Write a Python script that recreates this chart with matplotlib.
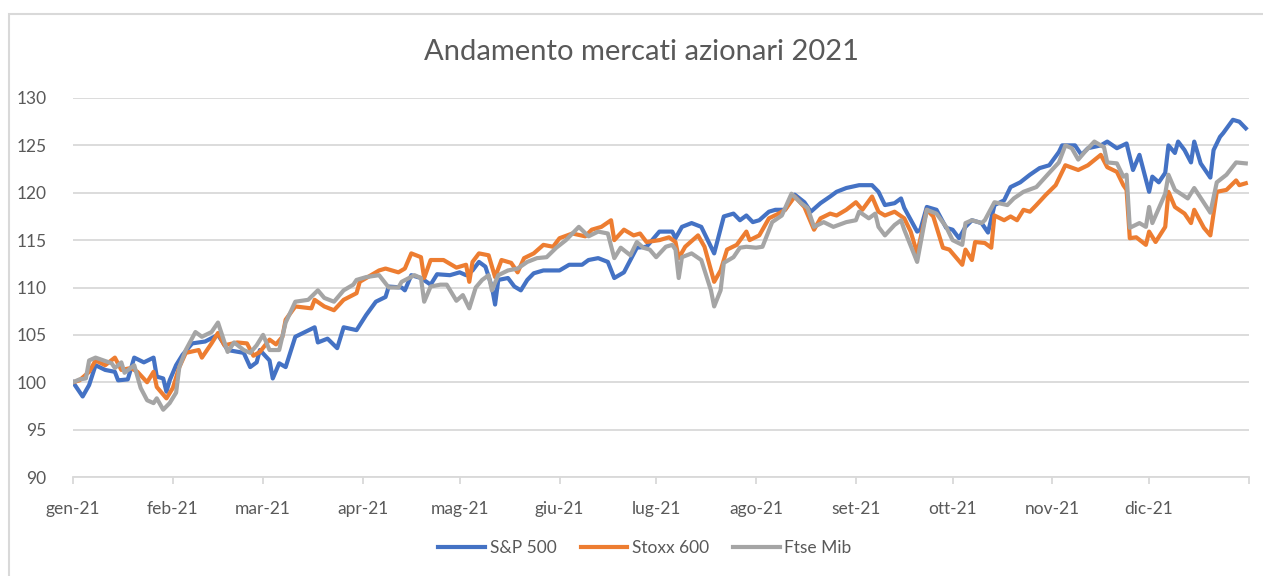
import numpy as np
import matplotlib
matplotlib.use('Agg')
import matplotlib.pyplot as plt
from matplotlib.patches import Rectangle

# giorni dall'1 gennaio 2021 e valori (base 100)
sp_giorni = [0, 3, 5, 7, 10, 13, 14, 17, 19, 22, 25, 26, 28, 29, 30, 32, 34, 37, 41, 45,
             48, 53, 55, 57, 58, 61, 62, 64, 66, 69, 72, 75, 76, 79, 82, 84, 88, 91, 94, 97,
             98, 102, 103, 105, 108, 111, 113, 117, 120, 122, 124, 126, 128, 130, 131, 132, 135, 137, 139, 141,
             143, 146, 151, 154, 158, 160, 163, 166, 168, 171, 173, 175, 178, 182, 186, 187, 189, 192, 195, 199,
             202, 205, 207, 209, 211, 213, 216, 218, 221, 224, 227, 229, 232, 235, 237, 240, 244, 248, 250, 252,
             255, 257, 258, 262, 263, 265, 268, 271, 273, 275, 277, 279, 282, 284, 286, 289, 291, 294, 297, 300,
             303, 306, 307, 311, 313, 315, 319, 321, 324, 327, 329, 331, 334, 335, 337, 339, 340, 342, 343, 345,
             347, 348, 350, 353, 354, 356, 357, 360, 362, 364]
sp_500 = [100.0, 98.5, 99.7, 101.8, 101.3, 101.1, 100.2, 100.3, 102.6, 102.1, 102.6, 100.6, 100.4, 99.0, 100.2, 101.8, 102.9, 104.1, 104.3, 105.0,
          103.4, 103.1, 101.6, 102.1, 103.4, 102.3, 100.4, 102.0, 101.6, 104.8, 105.3, 105.8, 104.2, 104.6, 103.6, 105.8, 105.5, 107.1, 108.5, 109.0,
          110.1, 110.0, 109.7, 111.3, 111.0, 110.3, 111.4, 111.3, 111.6, 111.3, 111.8, 112.7, 112.2, 110.1, 108.2, 110.8, 111.0, 110.1, 109.7, 110.8,
          111.5, 111.8, 111.8, 112.4, 112.4, 112.9, 113.1, 112.7, 111.0, 111.6, 112.9, 114.2, 114.3, 115.9, 115.9, 115.2, 116.4, 116.8, 116.4, 113.6,
          117.5, 117.8, 117.1, 117.6, 116.9, 117.1, 118.0, 118.2, 118.2, 119.8, 119.0, 118.0, 118.9, 119.6, 120.1, 120.5, 120.8, 120.8, 120.1, 118.7,
          118.9, 119.4, 118.4, 115.9, 116.1, 118.5, 118.2, 116.3, 116.1, 115.2, 116.4, 117.1, 116.8, 115.8, 118.7, 119.2, 120.6, 121.1, 121.9, 122.6,
          122.9, 124.3, 125.0, 125.0, 124.0, 124.7, 125.0, 125.4, 124.7, 125.2, 122.4, 124.0, 120.1, 121.7, 121.1, 122.1, 125.0, 124.2, 125.4, 124.5,
          123.2, 125.4, 123.1, 121.6, 124.5, 125.9, 126.3, 127.7, 127.5, 126.8]

stoxx_giorni = [0, 2, 5, 7, 10, 13, 15, 18, 20, 23, 25, 26, 29, 31, 33, 35, 39, 40, 43, 45,
                47, 51, 54, 56, 58, 61, 63, 65, 66, 69, 74, 75, 78, 81, 84, 88, 89, 95, 97, 101,
                103, 105, 108, 109, 111, 115, 119, 122, 123, 124, 126, 129, 131, 133, 136, 138, 140, 143, 146, 149,
                151, 155, 159, 161, 164, 167, 168, 171, 174, 176, 178, 182, 185, 187, 188, 190, 194, 196, 199, 201,
                203, 206, 209, 210, 213, 216, 219, 221, 224, 227, 230, 232, 235, 237, 240, 243, 245, 248, 250, 252,
                255, 258, 260, 262, 265, 267, 270, 272, 276, 277, 279, 280, 283, 285, 286, 289, 291, 293, 295, 297,
                299, 302, 305, 308, 312, 315, 319, 321, 324, 326, 327, 328, 330, 333, 334, 336, 339, 340, 342, 345,
                347, 348, 351, 353, 355, 358, 361, 362, 364]
stoxx_600 = [100.0, 100.2, 101.1, 102.3, 101.8, 102.6, 101.3, 101.5, 101.1, 100.0, 101.1, 99.5, 98.3, 99.4, 101.6, 103.1, 103.4, 102.6, 104.1, 105.2,
             103.9, 104.2, 104.1, 102.8, 103.2, 104.5, 104.0, 104.8, 106.6, 108.0, 107.8, 108.7, 108.0, 107.6, 108.7, 109.4, 110.6, 111.8, 112.0, 111.6,
             112.0, 113.6, 113.2, 111.0, 112.9, 112.9, 112.1, 112.4, 110.6, 112.7, 113.6, 113.4, 111.1, 112.9, 112.6, 111.6, 113.1, 113.6, 114.5, 114.3,
             115.2, 115.7, 115.4, 116.1, 116.4, 117.1, 115.0, 116.1, 115.5, 115.7, 114.8, 115.0, 115.3, 114.8, 113.1, 114.3, 115.5, 114.3, 110.6, 111.8,
             114.0, 114.5, 115.9, 115.0, 115.5, 117.3, 117.8, 118.2, 119.6, 118.5, 116.1, 117.3, 117.8, 117.6, 118.2, 119.0, 118.2, 119.6, 118.0, 117.6,
             118.0, 117.3, 115.9, 113.6, 118.2, 117.5, 114.2, 114.0, 112.4, 114.0, 112.9, 114.8, 114.7, 114.2, 117.6, 117.1, 117.5, 117.1, 118.2, 118.0,
             118.7, 119.8, 120.8, 122.9, 122.4, 122.9, 124.0, 122.7, 122.2, 120.8, 120.3, 115.2, 115.3, 114.5, 115.9, 114.8, 116.4, 120.1, 118.5, 117.8,
             116.8, 118.2, 116.3, 115.5, 120.1, 120.3, 121.3, 120.8, 121.0]

ftse_giorni = [0, 2, 4, 5, 7, 12, 13, 15, 16, 19, 21, 23, 25, 26, 28, 30, 32, 33, 35, 38,
               40, 43, 45, 48, 50, 53, 55, 57, 59, 61, 64, 66, 69, 73, 76, 78, 81, 84, 87, 88,
               91, 95, 98, 101, 102, 106, 108, 109, 111, 114, 116, 119, 121, 123, 125, 127, 129, 130, 132, 135,
               138, 141, 144, 147, 150, 153, 155, 157, 160, 163, 166, 168, 170, 173, 175, 177, 179, 181, 184, 186,
               187, 188, 189, 192, 195, 198, 199, 201, 202, 205, 207, 209, 212, 214, 217, 220, 223, 226, 228, 230,
               233, 236, 240, 243, 244, 247, 249, 250, 252, 255, 257, 258, 262, 265, 268, 271, 273, 276, 277, 279,
               282, 283, 286, 290, 292, 295, 299, 303, 306, 308, 310, 312, 314, 317, 320, 321, 324, 326, 327, 328,
               331, 333, 334, 335, 339, 340, 342, 346, 348, 353, 355, 358, 361, 364]
ftse_mib = [100.0, 100.3, 100.4, 102.3, 102.6, 102.0, 101.5, 102.1, 101.0, 101.8, 99.4, 98.1, 97.8, 98.3, 97.1, 97.8, 98.9, 101.6, 103.4, 105.3,
            104.8, 105.3, 106.3, 103.2, 104.2, 103.4, 103.1, 103.9, 105.0, 103.4, 103.4, 106.3, 108.5, 108.7, 109.7, 108.9, 108.5, 109.7, 110.3, 110.8,
            111.1, 111.3, 110.0, 110.0, 110.6, 111.3, 111.0, 108.5, 110.1, 110.3, 110.3, 108.6, 109.2, 107.8, 110.0, 110.8, 111.3, 109.7, 111.3, 111.8,
            112.0, 112.7, 113.1, 113.2, 114.2, 115.0, 115.7, 116.4, 115.4, 115.9, 115.7, 113.1, 114.2, 113.4, 114.8, 114.2, 114.0, 113.2, 114.3, 114.5,
            114.0, 111.0, 113.2, 113.6, 112.9, 109.7, 108.0, 109.7, 112.6, 113.2, 114.2, 114.3, 114.2, 114.3, 116.9, 117.6, 119.9, 118.9, 118.4, 116.4,
            116.9, 116.4, 116.9, 117.1, 118.0, 117.3, 117.8, 116.4, 115.5, 116.6, 117.1, 116.1, 112.7, 118.2, 117.8, 116.4, 115.0, 114.5, 116.8, 117.1,
            116.8, 117.1, 119.0, 118.7, 119.4, 120.1, 120.6, 122.1, 123.2, 125.0, 124.7, 123.5, 124.3, 125.4, 124.8, 123.2, 123.1, 121.7, 121.9, 116.3,
            116.8, 116.4, 118.5, 116.8, 119.9, 121.9, 120.3, 119.4, 120.5, 117.9, 121.1, 121.9, 123.2, 123.1]

mesi = ['gen-21', 'feb-21', 'mar-21', 'apr-21', 'mag-21', 'giu-21',
        'lug-21', 'ago-21', 'set-21', 'ott-21', 'nov-21', 'dic-21']
serie = [('S&P 500', sp_giorni, sp_500, '#4472C4'),
         ('Stoxx 600', stoxx_giorni, stoxx_600, '#ED7D31'),
         ('Ftse Mib', ftse_giorni, ftse_mib, '#A5A5A5')]

plt.rcParams['font.family'] = ['Lato', 'DejaVu Sans']
grigio_testo = '#595959'
grigio_linee = '#D9D9D9'

inizio = np.datetime64('2021-01-01')
fig = plt.figure(figsize=(12.63, 5.76), dpi=100)
# cornice del grafico (stile Excel)
fig.patches.append(Rectangle((9/1263, -0.1), 1.2, 1 - 14/576 + 0.1, transform=fig.transFigure,
                             fill=False, edgecolor=grigio_linee, linewidth=1.5))

ax = fig.add_axes([73/1263, 99/576, 1176/1263, 379/576])
for nome, giorni, valori, colore in serie:
    date = inizio + np.array(giorni).astype('timedelta64[D]')
    ax.plot(date, valori, color=colore, linewidth=3.0, label=nome, solid_joinstyle='round')

ax.set_ylim(90, 130)
ax.set_yticks(range(90, 131, 5))
ax.set_xlim(inizio, np.datetime64('2022-01-01'))
tick_mesi = [np.datetime64('2021-%02d-01' % m) for m in range(1, 13)] + [np.datetime64('2022-01-01')]
ax.set_xticks(tick_mesi)
ax.set_xticklabels(mesi + [''])

ax.grid(axis='y', color=grigio_linee, linewidth=1.3)
ax.set_axisbelow(True)
for lato in ['top', 'right', 'left']:
    ax.spines[lato].set_visible(False)
ax.spines['bottom'].set_color(grigio_linee)
ax.spines['bottom'].set_linewidth(1.3)
ax.tick_params(axis='y', length=0, pad=19, labelsize=12.5, labelcolor=grigio_testo)
ax.tick_params(axis='x', length=5, width=1.3, color=grigio_linee, pad=12,
               labelsize=12.5, labelcolor=grigio_testo)

fig.text(641/1263, 1 - 52/576, 'Andamento mercati azionari 2021', ha='center', va='center',
         fontsize=21, color=grigio_testo)
fig.legend(loc='center', bbox_to_anchor=(645/1263, 1 - 548/576), ncol=3, frameon=False,
           fontsize=12.5, labelcolor=grigio_testo, handlelength=2.7, handletextpad=0.25,
           columnspacing=1.4)

fig.savefig('out.png', dpi=100)
